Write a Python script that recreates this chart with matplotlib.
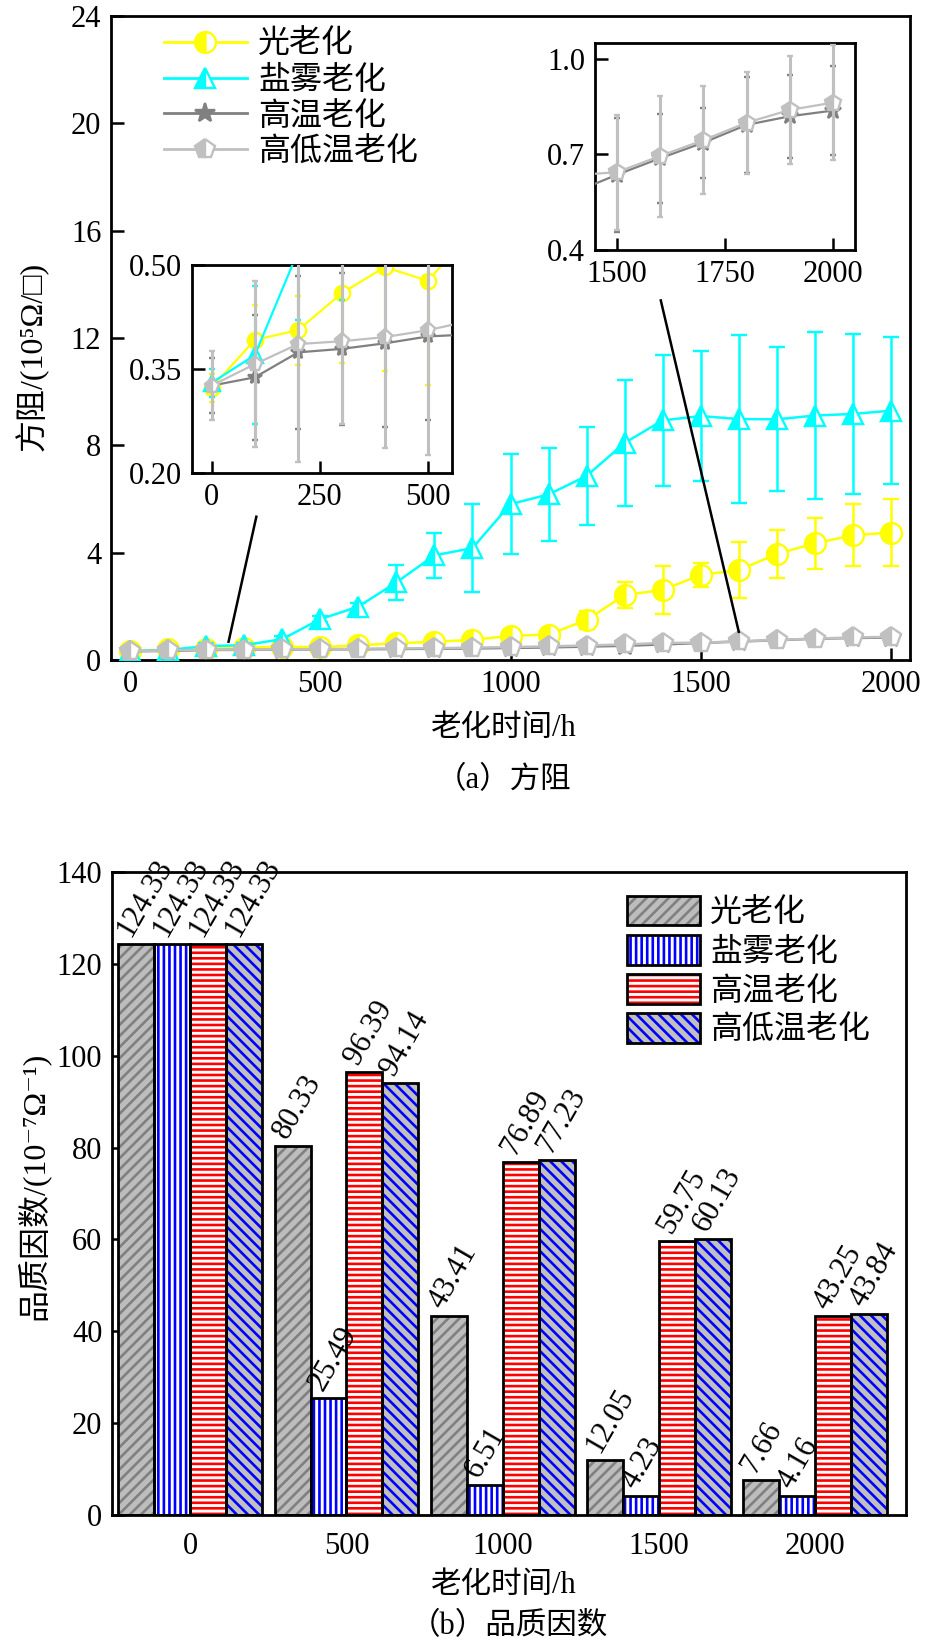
import numpy as np
import matplotlib
matplotlib.use('Agg')
import matplotlib.pyplot as plt
from matplotlib.lines import Line2D
from matplotlib.patches import Patch

FONTS = ['Liberation Serif', 'Noto Sans CJK SC', 'DejaVu Serif']
plt.rcParams['font.family'] = FONTS
plt.rcParams['hatch.linewidth'] = 1.9
plt.rcParams['axes.unicode_minus'] = False

# ---------------- data: (a) sheet resistance ----------------
hours = [0, 100, 200, 300, 400, 500, 600, 700, 800, 900, 1000,
         1100, 1200, 1300, 1400, 1500, 1600, 1700, 1800, 1900, 2000]
series_names = ['光老化', '盐雾老化', '高温老化', '高低温老化']

light_aging = [0.323, 0.392, 0.406, 0.459, 0.497, 0.477, 0.55, 0.62, 0.68, 0.75, 0.90,
               0.95, 1.49, 2.42, 2.61, 3.17, 3.35, 3.95, 4.35, 4.65, 4.75]
light_err = [0.02, 0.05, 0.05, 0.10, 0.15, 0.15, 0.15, 0.15, 0.15, 0.15, 0.20,
             0.20, 0.35, 0.50, 0.90, 0.45, 1.05, 0.90, 0.95, 1.16, 1.26]
salt_aging = [0.33, 0.37, 0.52, 0.55, 0.78, 1.52, 1.99, 2.89, 3.90, 4.17, 5.81,
              6.17, 6.86, 8.09, 8.93, 9.09, 8.98, 8.97, 9.11, 9.17, 9.29]
salt_err = [0.02, 0.10, 0.10, 0.10, 0.12, 0.12, 0.15, 0.65, 0.84, 1.65, 1.86,
            1.73, 1.83, 2.35, 2.44, 2.42, 3.14, 2.68, 3.11, 2.98, 2.73]
heat_aging = [0.326, 0.338, 0.374, 0.379, 0.387, 0.397, 0.40, 0.41, 0.42, 0.43, 0.45,
              0.47, 0.50, 0.53, 0.58, 0.636, 0.688, 0.737, 0.793, 0.82, 0.838]
heat_err = [0.04, 0.09, 0.11, 0.11, 0.12, 0.12, 0.12, 0.12, 0.13, 0.13, 0.13,
            0.14, 0.14, 0.15, 0.16, 0.18, 0.14, 0.11, 0.15, 0.13, 0.14]
cycle_aging = [0.326, 0.357, 0.386, 0.390, 0.396, 0.406, 0.42, 0.43, 0.44, 0.46, 0.48,
               0.51, 0.54, 0.58, 0.635, 0.644, 0.695, 0.745, 0.800, 0.840, 0.863]
cycle_err = [0.05, 0.12, 0.17, 0.12, 0.16, 0.18, 0.18, 0.17, 0.17, 0.17, 0.17,
             0.17, 0.17, 0.17, 0.17, 0.18, 0.19, 0.17, 0.16, 0.17, 0.18]

main_yticks = [0, 4, 8, 12, 16, 20, 24]
main_xticks = [0, 500, 1000, 1500, 2000]
inset1_xticks = [0, 250, 500]
inset1_yticks = [0.20, 0.35, 0.50]
inset2_xticks = [1500, 1750, 2000]
inset2_yticks = [0.4, 0.7, 1.0]

# ---------------- data: (b) quality factor ----------------
bar_hours = ['0', '500', '1000', '1500', '2000']
bar_light = [124.33, 80.33, 43.41, 12.05, 7.66]
bar_salt = [124.33, 25.49, 6.51, 4.23, 4.16]
bar_heat = [124.33, 96.39, 76.89, 59.75, 43.25]
bar_cycle = [124.33, 94.14, 77.23, 60.13, 43.84]
bar_yticks = [0, 20, 40, 60, 80, 100, 120, 140]

# ---------------- styles ----------------
line_colors = ['#ffff00', '#00ffff', '#808080', '#c0c0c0']
line_markers = ['o', '^', '*', 'p']
line_fill = ['left', 'left', 'full', 'left']
line_data = [(light_aging, light_err), (salt_aging, salt_err),
             (heat_aging, heat_err), (cycle_aging, cycle_err)]

W, H = 930, 1645
fig = plt.figure(figsize=(W / 100, H / 100), dpi=100)


def frac_box(left, top, right, bottom):
    return [left / W, 1 - bottom / H, (right - left) / W, (bottom - top) / H]


def style_axes(ax, size=22, pad=6):
    for s in ax.spines.values():
        s.set_linewidth(2.0)
    ax.tick_params(direction='in', length=9, width=1.8, labelsize=size, pad=pad)


def draw_lines(ax, ms, cap, lw, elw):
    for k, ((vals, errs), c, m, fs) in enumerate(zip(line_data, line_colors, line_markers, line_fill)):
        ax.errorbar(hours, vals, yerr=errs, color=c, lw=lw, marker=m, ms=ms,
                    mfc=c, mec=c, markerfacecoloralt='white', fillstyle=fs, mew=1.7,
                    capsize=cap, capthick=elw, elinewidth=elw, ecolor=c, zorder=2 + k)


# ---- main axes (a)
ax = fig.add_axes(frac_box(111, 16, 910, 660))
draw_lines(ax, ms=15, cap=5.5, lw=1.8, elw=1.8)
ax.set_xlim(-50, 2050)
ax.set_ylim(0, 24)
ax.set_xticks(main_xticks)
ax.set_yticks(main_yticks)
style_axes(ax, 22, pad=7)
ax.set_xlabel('老化时间/h', fontsize=22, va='center')
ax.xaxis.set_label_coords(0.492, -0.106)
ax.set_ylabel('方阻/(10⁵Ω/□)', fontsize=23, va='center')
ax.yaxis.set_label_coords(-0.099, 0.472)

# connector lines
ax.plot([332, 259], [5.34, 0.68], color='black', lw=1.8, zorder=10)
ax.plot([1395, 1600], [13.4, 1.05], color='black', lw=1.8, zorder=10)

handles = [Line2D([], [], color=c, marker=m, ms=15, mfc=c, mec=c, markerfacecoloralt='white',
                  fillstyle=fs, mew=1.7, lw=2)
           for c, m, fs in zip(line_colors, line_markers, line_fill)]
ax.legend(handles, series_names, loc='upper left', bbox_to_anchor=(0.066, 0.978),
          frameon=False, fontsize=23, handlelength=2.6, handletextpad=0.35,
          labelspacing=0.18, borderpad=0, borderaxespad=0)

# ---- inset 1
ax1 = fig.add_axes(frac_box(192, 265, 452, 473))
draw_lines(ax1, ms=11, cap=2.5, lw=1.6, elw=2.2)
ax1.set_xlim(-45, 555)
ax1.set_ylim(0.2, 0.5)
ax1.set_xticks(inset1_xticks)
ax1.set_yticks(inset1_yticks)
ax1.set_yticklabels([f'{v:.2f}' for v in inset1_yticks])
style_axes(ax1, 22, pad=7)

# ---- inset 2
ax2 = fig.add_axes(frac_box(595, 43, 855, 250))
draw_lines(ax2, ms=12, cap=2.5, lw=1.6, elw=2.2)
ax2.set_xlim(1450, 2050)
ax2.set_ylim(0.4, 1.05)
ax2.set_xticks(inset2_xticks)
ax2.set_yticks(inset2_yticks)
ax2.set_yticklabels([f'{v:.1f}' for v in inset2_yticks])
style_axes(ax2, 22, pad=7)

fig.text(504 / W, 1 - 781 / H, '（a）方阻', fontsize=22, ha='center', va='center')

# ---- bar chart (b)
axb = fig.add_axes(frac_box(112, 872, 906, 1515))
bar_series = [bar_light, bar_salt, bar_heat, bar_cycle]
bar_faces = ['#bdbdbd', '#ffffff', '#ffffff', '#c0c0c0']
bar_hatch_colors = ['#808080', '#0000ff', '#ff0000', '#0000ff']
bar_hatches = ['///', '|||', '---', '\\\\\\']
w = 0.23
x = np.arange(len(bar_hours))
legend_handles = []
for i, (vals, fc, hc, hp) in enumerate(zip(bar_series, bar_faces, bar_hatch_colors, bar_hatches)):
    xs = x + (i - 1.5) * w
    axb.bar(xs, vals, w, color=fc, edgecolor=hc, hatch=hp, linewidth=0, zorder=2)
    axb.bar(xs, vals, w, facecolor='none', edgecolor='black', linewidth=2.0, zorder=3)
    for xx, v in zip(xs, vals):
        axb.text(xx, v + 0.5, f'{v:.2f}', rotation=60, rotation_mode='anchor',
                 ha='left', va='bottom', fontsize=22, zorder=4)
    legend_handles.append((Patch(facecolor=fc, edgecolor=hc, hatch=hp, linewidth=0),
                           Patch(facecolor='none', edgecolor='black', linewidth=2.0)))

axb.set_xlim(-0.5, 4.58)
axb.set_ylim(0, 140)
axb.set_xticks(x)
axb.set_xticklabels(bar_hours)
axb.set_yticks(bar_yticks)
style_axes(axb, 22, pad=7)
axb.tick_params(axis='x', length=0, pad=12)
axb.set_xlabel('老化时间/h', fontsize=22, va='center')
axb.xaxis.set_label_coords(0.494, -0.11)
axb.set_ylabel('品质因数/(10⁻⁷Ω⁻¹)', fontsize=23, va='center')
axb.yaxis.set_label_coords(-0.10, 0.512)
axb.legend(legend_handles, series_names, loc='upper left', bbox_to_anchor=(0.6486, 0.963),
           frameon=False, fontsize=23, handlelength=2.3, handleheight=1.05,
           handletextpad=0.3, labelspacing=0.2, borderpad=0, borderaxespad=0)

fig.text(509 / W, 1 - 1627 / H, '（b）品质因数', fontsize=22, ha='center', va='center')

fig.savefig('out.png', dpi=100)
